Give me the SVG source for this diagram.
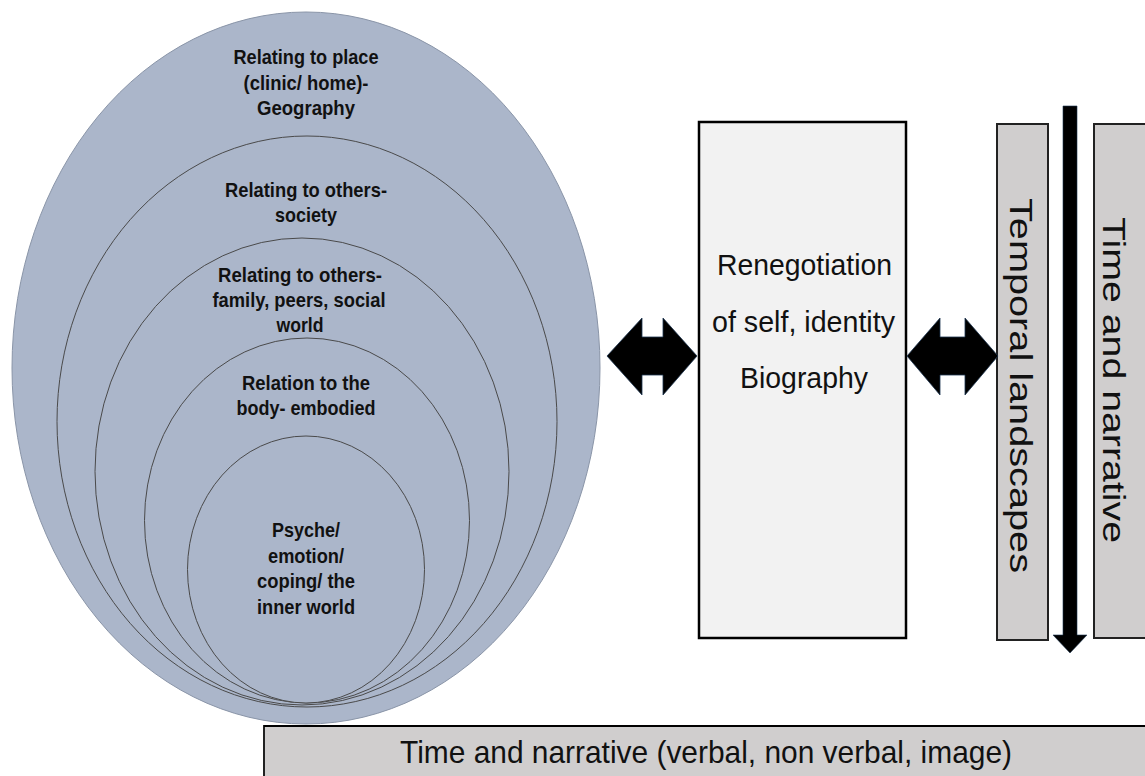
<svg xmlns="http://www.w3.org/2000/svg" width="1145" height="776" viewBox="0 0 1145 776">
<style>
.ring{fill:#abb6ca;stroke:#4a4a4a;stroke-width:1}
.outer{fill:#abb6ca;stroke:#8a95a8;stroke-width:1}
.lbl{font-family:"Liberation Sans",Arial,sans-serif;font-weight:bold;font-size:21px;fill:#111;text-anchor:middle}
.big{font-family:"Liberation Sans",Arial,sans-serif;fill:#111}
.bar{fill:#d0cece;stroke:#222;stroke-width:2}
.dbl{fill:#000;stroke:#1d3550;stroke-width:0.8}
</style>
<rect width="1145" height="776" fill="#fff"/>
<g id="ring-place">
<ellipse class="outer" cx="306" cy="368" rx="294" ry="356"/>
<text class="lbl" x="306" y="64" textLength="145" lengthAdjust="spacingAndGlyphs">Relating to place</text>
<text class="lbl" x="306" y="90" textLength="125" lengthAdjust="spacingAndGlyphs">(clinic/ home)-</text>
<text class="lbl" x="306" y="115" textLength="98" lengthAdjust="spacingAndGlyphs">Geography</text>
</g>
<g id="ring-society">
<ellipse class="ring" cx="307" cy="421.5" rx="250" ry="285.5"/>
<text class="lbl" x="306" y="197" textLength="162" lengthAdjust="spacingAndGlyphs">Relating to others-</text>
<text class="lbl" x="306" y="222" textLength="62" lengthAdjust="spacingAndGlyphs">society</text>
</g>
<g id="ring-family">
<ellipse class="ring" cx="302" cy="471.5" rx="207" ry="233.5"/>
<text class="lbl" x="300" y="282" textLength="164" lengthAdjust="spacingAndGlyphs">Relating to others-</text>
<text class="lbl" x="299" y="307" textLength="173" lengthAdjust="spacingAndGlyphs">family, peers, social</text>
<text class="lbl" x="300" y="332" textLength="47" lengthAdjust="spacingAndGlyphs">world</text>
</g>
<g id="ring-body">
<ellipse class="ring" cx="307" cy="520.5" rx="162.5" ry="182.5"/>
<text class="lbl" x="306" y="390" textLength="128" lengthAdjust="spacingAndGlyphs">Relation to the</text>
<text class="lbl" x="306" y="415" textLength="139" lengthAdjust="spacingAndGlyphs">body- embodied</text>
</g>
<g id="ring-psyche">
<ellipse class="ring" cx="306" cy="569.5" rx="118.5" ry="133.5"/>
<text class="lbl" x="306" y="537" textLength="68" lengthAdjust="spacingAndGlyphs">Psyche/</text>
<text class="lbl" x="306" y="563" textLength="76" lengthAdjust="spacingAndGlyphs">emotion/</text>
<text class="lbl" x="306" y="588" textLength="98" lengthAdjust="spacingAndGlyphs">coping/ the</text>
<text class="lbl" x="306" y="614" textLength="98" lengthAdjust="spacingAndGlyphs">inner world</text>
</g>
<g id="identity">
<rect x="699" y="122" width="207" height="516" fill="#f2f2f2" stroke="#000" stroke-width="2.5"/>
<text class="big" font-size="30" x="804.5" y="275" text-anchor="middle" textLength="175" lengthAdjust="spacingAndGlyphs">Renegotiation</text>
<text class="big" font-size="30" x="803.5" y="332" text-anchor="middle" textLength="183" lengthAdjust="spacingAndGlyphs">of self, identity</text>
<text class="big" font-size="30" x="804" y="388" text-anchor="middle" textLength="128" lengthAdjust="spacingAndGlyphs">Biography</text>
</g>
<g id="temporal">
<rect class="bar" x="997" y="124" width="51" height="516"/>
<text class="big" font-size="32" transform="translate(1010,198) rotate(90)" x="0" y="0" textLength="375" lengthAdjust="spacingAndGlyphs">Temporal landscapes</text>
</g>
<g id="time-narrative">
<rect class="bar" x="1094" y="124" width="53" height="514"/>
<text class="big" font-size="32" transform="translate(1103,217) rotate(90)" x="0" y="0" textLength="326" lengthAdjust="spacingAndGlyphs">Time and narrative</text>
</g>
<g id="time-narrative-bottom">
<rect class="bar" x="264" y="726" width="883" height="52"/>
<line x1="264" y1="726" x2="1145" y2="726" stroke="#000" stroke-width="2"/>
<text class="big" font-size="32" x="706" y="763" text-anchor="middle" textLength="612" lengthAdjust="spacingAndGlyphs">Time and narrative (verbal, non verbal, image)</text>
</g>
<g id="connectors">
<polygon class="dbl" points="607,356 642,318 642,337 663,337 663,318 697,356 663,395 663,375 642,375 642,395"/>
<polygon class="dbl" points="907,356 940,318 940,337 965,337 965,318 998,356 965,395 965,375 940,375 940,395"/>
<polygon fill="#000" stroke="#1d3550" stroke-width="0.6" points="1063,106 1077,106 1077,635 1087,635 1070,653 1053,635 1063,635"/>
</g>
</svg>
